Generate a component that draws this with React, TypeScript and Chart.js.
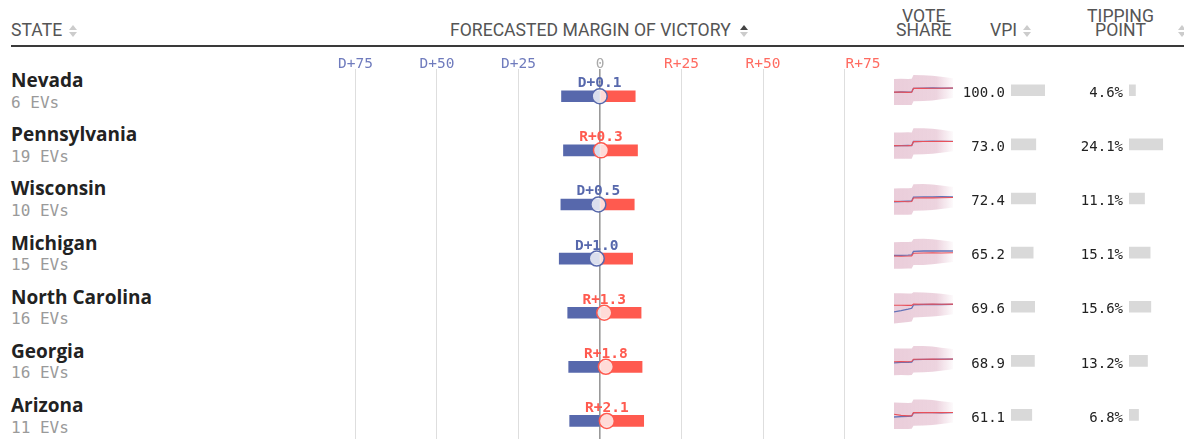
import React, { useEffect, useRef } from "react";
import { Chart, registerables } from "chart.js";
Chart.register(...registerables);

// ---------- data ----------
const states = ["Nevada", "Pennsylvania", "Wisconsin", "Michigan", "North Carolina", "Georgia", "Arizona"];
const electoralVotes = [6, 19, 10, 15, 16, 16, 11];
// negative = Democratic margin, positive = Republican margin
const margins = [-0.1, 0.3, -0.5, -1.0, 1.3, 1.8, 2.1];
const marginLow = [-11.8, -11.2, -12.0, -12.5, -9.9, -9.6, -9.3];
const marginHigh = [10.8, 11.5, 10.5, 10.0, 12.6, 12.9, 13.4];
const vpi = [100.0, 73.0, 72.4, 65.2, 69.6, 68.9, 61.1];
const tippingPoint = [4.6, 24.1, 11.1, 15.1, 15.6, 13.2, 6.8];
const marginTicks = [-75, -50, -25, 0, 25, 50, 75];
const marginTickLabels = ["D+75", "D+50", "D+25", "0", "R+25", "R+50", "R+75"];

const sparkDays = [0, 12, 24, 30, 33, 50, 65, 80, 100];
const demShare = [
  [48.7, 48.9, 48.8, 48.9, 50.9, 51.0, 51.1, 51.0, 51.0],
  [49.0, 49.1, 49.2, 49.1, 51.4, 51.5, 51.6, 51.5, 51.5],
  [48.4, 48.6, 48.8, 48.9, 51.1, 51.2, 51.2, 51.3, 51.2],
  [48.6, 48.7, 48.8, 48.9, 50.9, 51.1, 51.1, 51.2, 51.1],
  [47.3, 48.0, 48.8, 49.3, 51.2, 51.4, 51.5, 51.4, 51.5],
  [49.0, 49.2, 49.3, 49.4, 50.8, 50.9, 50.9, 51.0, 51.0],
  [48.9, 49.1, 49.3, 49.4, 51.2, 51.3, 51.3, 51.2, 51.3],
];
const repShare = [
  [48.8, 48.8, 48.7, 48.8, 51.0, 50.9, 51.0, 51.0, 51.1],
  [49.1, 49.0, 49.1, 49.2, 51.3, 51.4, 51.4, 51.5, 51.4],
  [48.7, 48.6, 48.5, 48.6, 50.6, 50.7, 50.6, 50.7, 50.8],
  [48.3, 48.2, 48.3, 48.4, 49.9, 50.0, 50.1, 50.0, 50.1],
  [51.0, 51.0, 50.9, 50.9, 51.6, 51.5, 51.6, 51.5, 51.6],
  [49.6, 49.7, 49.6, 49.7, 51.0, 51.0, 51.1, 51.0, 51.1],
  [50.4, 49.8, 49.5, 49.6, 51.3, 51.3, 51.4, 51.3, 51.4],
];
const shareHigh = [
  [56.1, 56.2, 56.1, 56.2, 58.3, 58.2, 57.9, 57.3, 56.5],
  [56.4, 56.4, 56.5, 56.4, 58.7, 58.7, 58.5, 57.9, 57.0],
  [55.9, 56.0, 56.0, 56.1, 58.2, 58.3, 58.0, 57.5, 56.7],
  [56.0, 56.1, 56.1, 56.2, 57.8, 57.9, 57.6, 57.1, 56.3],
  [57.6, 57.6, 57.5, 57.5, 58.2, 58.1, 57.8, 57.3, 56.5],
  [56.9, 57.0, 56.9, 57.0, 58.3, 58.3, 58.0, 57.4, 56.6],
  [57.0, 56.8, 56.7, 56.8, 58.6, 58.6, 58.3, 57.7, 56.9],
];
const shareLow = [
  [41.6, 41.7, 41.7, 41.7, 43.8, 43.9, 44.2, 44.8, 45.5],
  [41.8, 41.8, 41.8, 41.8, 44.2, 44.3, 44.6, 45.2, 46.0],
  [41.2, 41.3, 41.3, 41.4, 43.5, 43.6, 43.9, 44.5, 45.3],
  [41.3, 41.3, 41.4, 41.4, 43.3, 43.4, 43.7, 44.3, 45.0],
  [40.8, 41.2, 41.7, 42.0, 44.2, 44.4, 44.7, 45.2, 46.0],
  [42.1, 42.2, 42.1, 42.2, 43.6, 43.7, 44.0, 44.6, 45.4],
  [42.2, 42.2, 42.2, 42.3, 44.0, 44.1, 44.4, 45.0, 45.8],
];

// ---------- styles ----------
const BLUE = "#5768ac";
const RED = "#ff5a4f";
const MONO = '"DejaVu Sans Mono", monospace';
const SANS = 'Roboto, "Open Sans", sans-serif';
const NAME_FONT = '"Open Sans", sans-serif';

const CANVAS_TOP = 46;
const PAD_TOP = 23.2;
const AREA_H = 379;
const ROW0 = CANVAS_TOP + PAD_TOP + AREA_H / 14;
const PITCH = AREA_H / 7;
const rowCenter = (i: number) => ROW0 + PITCH * i;

const formatMargin = (m: number) => (m < 0 ? "D+" : "R+") + Math.abs(m).toFixed(1);

const baseOptions: any = {
  animation: false,
  responsive: false,
  maintainAspectRatio: false,
  events: [],
  plugins: { legend: { display: false }, tooltip: { enabled: false } },
};

function MarginChart() {
  const ref = useRef<HTMLCanvasElement>(null);
  useEffect(() => {
    const labelPlugin = {
      id: "marginLabels",
      afterDatasetsDraw(chart: any) {
        const { ctx, scales, chartArea } = chart;
        const x = scales.x;
        const y = scales.y;
        ctx.save();
        ctx.textBaseline = "alphabetic";
        ctx.font = "bold 14.5px " + MONO;
        ctx.textAlign = "center";
        margins.forEach((m, i) => {
          ctx.fillStyle = m < 0 ? BLUE : RED;
          ctx.fillText(formatMargin(m), x.getPixelForValue(m), y.getPixelForValue(i) - 9);
        });
        ctx.font = "14.5px " + MONO;
        marginTicks.forEach((v, k) => {
          const px = x.getPixelForValue(v);
          const last = k === marginTicks.length - 1;
          ctx.fillStyle = v < 0 ? "#6f7bbd" : v > 0 ? "#ff6b61" : "#aaaaaa";
          ctx.textAlign = last ? "left" : "center";
          ctx.fillText(marginTickLabels[k], last ? px + 1 : px, chartArea.top - 1);
        });
        ctx.restore();
      },
    };
    const chart = new Chart(ref.current as HTMLCanvasElement, {
      type: "bar",
      data: {
        labels: states,
        datasets: [
          {
            type: "scatter",
            data: margins.map((m, i) => ({ x: m, y: states[i] })),
            pointRadius: 7.5,
            pointBorderWidth: 1.5,
            pointBackgroundColor: "rgba(255,255,255,0.78)",
            pointBorderColor: margins.map((m) => (m < 0 ? BLUE : RED)),
            order: 0,
            clip: false,
          } as any,
          {
            type: "bar",
            data: marginLow.map((v) => [v, 0]),
            backgroundColor: BLUE,
            barThickness: 11,
            grouped: false,
            order: 1,
          } as any,
          {
            type: "bar",
            data: marginHigh.map((v) => [0, v]),
            backgroundColor: RED,
            barThickness: 11,
            grouped: false,
            order: 1,
          } as any,
        ],
      },
      options: {
        ...baseOptions,
        indexAxis: "y",
        layout: { autoPadding: false, padding: { top: PAD_TOP, left: 0, right: 0, bottom: 0 } },
        scales: {
          x: {
            type: "linear",
            min: -92,
            max: 92,
            position: "top",
            afterBuildTicks: (s: any) => {
              s.ticks = marginTicks.map((v) => ({ value: v }));
            },
            afterFit: (s: any) => {
              s.height = 0;
            },
            ticks: { display: false },
            border: { display: false },
            grid: {
              drawTicks: false,
              color: (c: any) => (c.tick && c.tick.value === 0 ? "#999999" : "#dedede"),
              lineWidth: (c: any) => (c.tick && c.tick.value === 0 ? 1.6 : 1),
            },
          },
          y: { type: "category", display: false, offset: true },
        },
      } as any,
      plugins: [labelPlugin],
    });
    return () => chart.destroy();
  }, []);
  return (
    <canvas
      ref={ref}
      width={600}
      height={402}
      style={{ position: "absolute", left: 300, top: CANVAS_TOP, width: 600, height: 402 }}
    />
  );
}

function ValueBars({ values, max, left, width, offset }: any) {
  const ref = useRef<HTMLCanvasElement>(null);
  useEffect(() => {
    const chart = new Chart(ref.current as HTMLCanvasElement, {
      type: "bar",
      data: {
        labels: states,
        datasets: [{ data: values, backgroundColor: "#d9d9d9", barThickness: 11 }],
      },
      options: {
        ...baseOptions,
        indexAxis: "y",
        layout: { autoPadding: false, padding: { top: PAD_TOP, left: 0, right: 0, bottom: 0 } },
        scales: {
          x: { type: "linear", display: false, min: 0, max },
          y: { type: "category", display: false, offset: true },
        },
      } as any,
    });
    return () => chart.destroy();
  }, []);
  return (
    <canvas
      ref={ref}
      width={width}
      height={402}
      style={{ position: "absolute", left, top: CANVAS_TOP + offset, width, height: 402 }}
    />
  );
}

function Sparkline({ idx }: { idx: number }) {
  const ref = useRef<HTMLCanvasElement>(null);
  useEffect(() => {
    const pts = (arr: number[]) => arr.map((v, k) => ({ x: sparkDays[k], y: v }));
    const bandFill = (c: any) => {
      const area = c.chart.chartArea;
      if (!area) return "rgba(190,100,140,0.3)";
      const g = c.chart.ctx.createLinearGradient(area.left, 0, area.right, 0);
      g.addColorStop(0, "rgba(190,100,140,0.32)");
      g.addColorStop(0.72, "rgba(190,100,140,0.28)");
      g.addColorStop(1, "rgba(190,100,140,0.03)");
      return g;
    };
    const chart = new Chart(ref.current as HTMLCanvasElement, {
      type: "line",
      data: {
        datasets: [
          { data: pts(shareHigh[idx]), borderWidth: 0, pointRadius: 0, fill: "+1", backgroundColor: bandFill, order: 3 },
          { data: pts(shareLow[idx]), borderWidth: 0, pointRadius: 0, fill: false, order: 3 },
          { data: pts(demShare[idx]), borderColor: "#6473b8", borderWidth: 1.3, pointRadius: 0, fill: false, order: 1 },
          { data: pts(repShare[idx]), borderColor: "#e8505a", borderWidth: 1.1, pointRadius: 0, fill: false, order: 0 },
        ],
      } as any,
      options: {
        ...baseOptions,
        layout: { autoPadding: false, padding: 0 },
        scales: {
          x: { type: "linear", display: false, min: 0, max: 100 },
          y: { type: "linear", display: false, min: 40, max: 60 },
        },
      } as any,
    });
    return () => chart.destroy();
  }, []);
  return (
    <canvas
      ref={ref}
      width={59}
      height={36}
      style={{ position: "absolute", left: 894, top: rowCenter(idx) - 24, width: 59, height: 36 }}
    />
  );
}

function Arrows({ cx, up, down }: { cx: number; up: string; down: string }) {
  const tri = (top: number, color: string, isUp: boolean): React.CSSProperties => ({
    position: "absolute",
    left: cx - 4,
    top,
    width: 0,
    height: 0,
    borderLeft: "4px solid transparent",
    borderRight: "4px solid transparent",
    ...(isUp ? { borderBottom: `5px solid ${color}` } : { borderTop: `5px solid ${color}` }),
  });
  return (
    <>
      <div style={tri(25, up, true)} />
      <div style={tri(32, down, false)} />
    </>
  );
}

const headerStyle: React.CSSProperties = {
  position: "absolute",
  fontFamily: SANS,
  fontSize: 17.6,
  lineHeight: "17px",
  color: "#555",
  whiteSpace: "nowrap",
};

export default function App() {
  return (
    <div
      style={{
        position: "absolute",
        left: 0,
        top: 0,
        width: 1184,
        height: 439,
        overflow: "hidden",
        background: "#fff",
      }}
    >
      {/* header */}
      <div style={{ ...headerStyle, left: 11, top: 21.6 }}>STATE</div>
      <Arrows cx={72.5} up="#cccccc" down="#cccccc" />
      <div style={{ ...headerStyle, left: 450, top: 21.6 }}>FORECASTED MARGIN OF VICTORY</div>
      <Arrows cx={744} up="#444444" down="#cccccc" />
      <div style={{ ...headerStyle, left: 873.7, width: 100, textAlign: "center", top: 9.0, lineHeight: "14px" }}>
        VOTE
        <br />
        SHARE
      </div>
      <div style={{ ...headerStyle, left: 990, top: 21.6 }}>VPI</div>
      <Arrows cx={1027} up="#cccccc" down="#cccccc" />
      <div style={{ ...headerStyle, left: 1070.5, width: 100, textAlign: "center", top: 9.0, lineHeight: "14px" }}>
        TIPPING
        <br />
        POINT
      </div>
      <Arrows cx={1182} up="#cccccc" down="#cccccc" />
      <div style={{ position: "absolute", left: 11, right: 0, top: 45, height: 2, background: "#3a3a3a" }} />

      <MarginChart />
      <ValueBars values={vpi} max={100} left={1011} width={34} offset={-5.8} />
      <ValueBars values={tippingPoint} max={25} left={1129} width={35} offset={-5.8} />

      {states.map((s, i) => {
        const c = rowCenter(i);
        return (
          <React.Fragment key={s}>
            <div
              style={{
                position: "absolute",
                left: 11,
                top: c - 26.1,
                fontFamily: NAME_FONT,
                fontWeight: 700,
                fontSize: 19,
                lineHeight: "20px",
                color: "#222",
                whiteSpace: "nowrap",
              }}
            >
              {s}
            </div>
            <div
              style={{
                position: "absolute",
                left: 11,
                top: c - 1.5,
                fontFamily: MONO,
                fontSize: 16,
                lineHeight: "16px",
                color: "#9a9a9a",
                whiteSpace: "pre",
              }}
            >
              {`${electoralVotes[i]} EVs`}
            </div>
            <Sparkline idx={i} />
            <div
              style={{
                position: "absolute",
                left: 905,
                width: 100,
                textAlign: "right",
                top: c - 11.45,
                fontFamily: MONO,
                fontSize: 14,
                lineHeight: "14px",
                color: "#222",
              }}
            >
              {vpi[i].toFixed(1)}
            </div>
            <div
              style={{
                position: "absolute",
                left: 1023,
                width: 100,
                textAlign: "right",
                top: c - 11.45,
                fontFamily: MONO,
                fontSize: 14,
                lineHeight: "14px",
                color: "#222",
              }}
            >
              {tippingPoint[i].toFixed(1) + "%"}
            </div>
          </React.Fragment>
        );
      })}
    </div>
  );
}
